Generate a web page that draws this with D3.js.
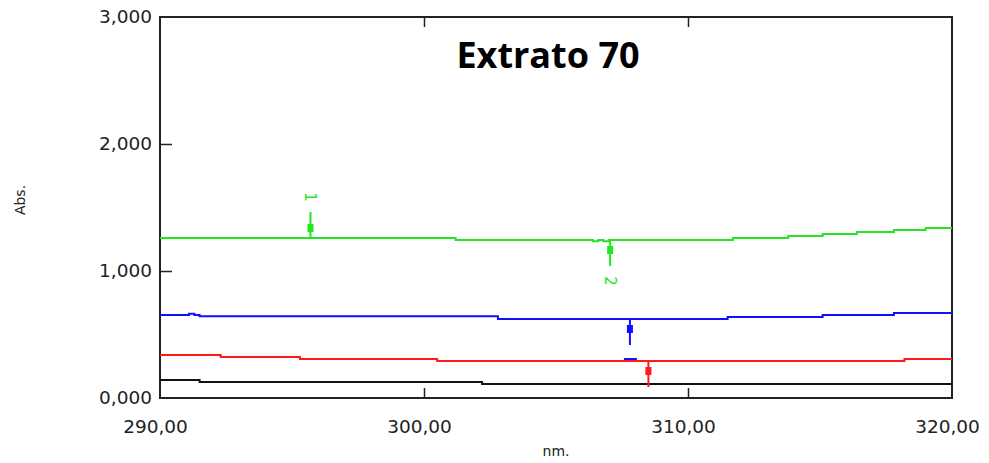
<html>
<head>
<style>
body { margin: 0; background: #fff; }
.tick text { font-family: "DejaVu Sans", sans-serif; font-size: 18.5px; fill: #222; }
.frame { fill: none; stroke: #222; stroke-width: 2; }
</style>
</head>
<body>
<div id="vis"></div>
<script src="https://cdn.jsdelivr.net/npm/d3@7"></script>
<script>
// data (nm, Abs.)
var greenNm   = [290, 301.2, 306.4, 306.6, 306.8, 307.0, 311.7, 313.8, 315.1, 316.4, 317.8, 319.0, 320];
var greenAbs  = [1260, 1244, 1234, 1244, 1234, 1244, 1260, 1276, 1291, 1307, 1323, 1339, 1339];
var blueNm    = [290, 291.1, 291.3, 291.5, 302.8, 311.5, 315.1, 317.8, 320];
var blueAbs   = [654, 664, 654, 644, 622, 638, 654, 669, 669];
var redNm     = [290, 292.3, 295.3, 300.5, 318.2, 320];
var redAbs    = [339, 323, 307, 291, 307, 307];
var blackNm   = [290, 291.5, 302.2, 320];
var blackAbs  = [142, 126, 110, 110];

var seriesColors = ["#22e622", "#1010ff", "#ff1a1a", "#111"];

// markers: wavelength, series index, direction (-1 up, 1 down), label
var markerNm     = [295.7, 307.05, 307.8, 308.5];
var markerSeries = [0, 0, 1, 2];
var markerDir    = [-1, 1, 1, 1];
var markerLabel  = ["1", "2", "", ""];

var xTicks = [290, 300, 310, 320];
var yTicks = [0, 1000, 2000, 3000];

var W = 989, H = 463;
var margin = {top: 17, right: 37, bottom: 65, left: 160},
    width = W - margin.left - margin.right,
    height = H - margin.top - margin.bottom;

var x = d3.scaleLinear().domain([290, 320]).range([0, width]);
var y = d3.scaleLinear().domain([0, 3000]).range([height, 0]);

var svg = d3.select("#vis").append("svg")
    .attr("width", W)
    .attr("height", H)
  .append("g")
    .attr("transform", "translate(" + margin.left + "," + margin.top + ")");

var fmtX = function(d) { return d3.format(".2f")(d).replace(".", ","); };
var fmtY = function(d) { return d3.format(".3f")(d / 1000).replace(".", ","); };

// frame
svg.append("rect").attr("class", "frame")
    .attr("width", width).attr("height", height);

// axes, ticks pointing into the plot
var xAxis = svg.append("g")
    .attr("transform", "translate(0," + height + ")")
    .call(d3.axisBottom(x).tickValues(xTicks).tickFormat(fmtX).tickSize(-10).tickPadding(22));
xAxis.select(".domain").remove();
xAxis.selectAll("line").attr("stroke", "#222").attr("stroke-width", 1.5)
    .filter(function(d) { return d === 290 || d === 320; }).remove();
xAxis.selectAll("text").attr("dx", -5);

var xTop = svg.append("g")
    .call(d3.axisTop(x).tickValues([300, 310]).tickFormat("").tickSize(-10));
xTop.select(".domain").remove();
xTop.selectAll("line").attr("stroke", "#222").attr("stroke-width", 1.5);

var yAxis = svg.append("g")
    .call(d3.axisLeft(y).tickValues(yTicks).tickFormat(fmtY).tickSize(-12).tickPadding(8));
yAxis.select(".domain").remove();
yAxis.selectAll("line").attr("stroke", "#222").attr("stroke-width", 1.5)
    .filter(function(d) { return d === 0 || d === 3000; }).remove();

// spectra
var series = [
  d3.zip(greenNm, greenAbs),
  d3.zip(blueNm, blueAbs),
  d3.zip(redNm, redAbs),
  d3.zip(blackNm, blackAbs)
];

var line = d3.line()
    .x(function(d) { return x(d[0]); })
    .y(function(d) { return y(d[1]); })
    .curve(d3.curveStepAfter);

svg.selectAll(".spec")
    .data(series)
  .enter().append("path")
    .attr("class", "spec")
    .attr("fill", "none")
    .attr("stroke", function(d, i) { return seriesColors[i]; })
    .attr("stroke-width", 2)
    .attr("d", line);

// value of a step series at a wavelength
function valueAt(s, nm) {
  var v = s[0][1];
  s.forEach(function(p) { if (p[0] <= nm) v = p[1]; });
  return v;
}

// peak markers
markerNm.forEach(function(nm, i) {
  var c = seriesColors[markerSeries[i]];
  var mx = x(nm), my = y(valueAt(series[markerSeries[i]], nm));
  var dir = markerDir[i];
  var g = svg.append("g");
  g.append("line")
      .attr("x1", mx).attr("x2", mx)
      .attr("y1", my).attr("y2", my + dir * 26)
      .attr("stroke", c).attr("stroke-width", 2);
  g.append("rect")
      .attr("x", mx - 3).attr("y", my + dir * 10 - 4)
      .attr("width", 6).attr("height", 8)
      .attr("fill", c);
  if (markerLabel[i]) {
    g.append("text")
        .attr("transform", "translate(" + (mx - 5) + "," + (my + dir * 41) + ") rotate(90)")
        .attr("text-anchor", "middle")
        .style("font-family", "DejaVu Sans, sans-serif")
        .style("font-size", "15px")
        .attr("fill", c)
        .text(markerLabel[i]);
  } else if (markerSeries[i] === 1) {
    g.append("line")
        .attr("x1", mx - 6).attr("x2", mx + 7)
        .attr("y1", my + dir * 40).attr("y2", my + dir * 40)
        .attr("stroke", c).attr("stroke-width", 2);
  }
});

// title and axis labels
svg.append("text")
    .attr("x", 388).attr("y", 51)
    .attr("text-anchor", "middle")
    .style("font-family", "Open Sans, sans-serif")
    .style("font-weight", 700)
    .style("font-size", "36px")
    .attr("fill", "#000")
    .text("Extrato 70");

svg.append("text")
    .attr("transform", "translate(" + (-135) + "," + 183 + ") rotate(-90)")
    .attr("text-anchor", "middle")
    .style("font-family", "DejaVu Sans, sans-serif")
    .style("font-size", "14px")
    .attr("fill", "#222")
    .text("Abs.");

svg.append("text")
    .attr("x", 396).attr("y", 439)
    .attr("text-anchor", "middle")
    .style("font-family", "DejaVu Sans, sans-serif")
    .style("font-size", "14px")
    .attr("fill", "#222")
    .text("nm.");
</script>
</body>
</html>
